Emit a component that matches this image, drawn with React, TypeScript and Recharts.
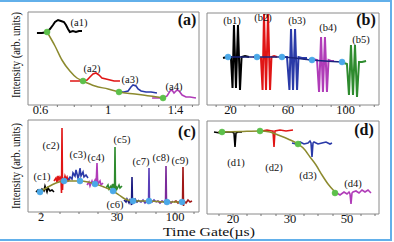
import React from 'react';
import { ComposedChart, Line, XAxis, YAxis, ReferenceArea } from 'recharts';

type P = [number, number];

// ---------- Panel (a) ----------
const aTickValues = [0.6, 1, 1.4];
const aTickLabels = ['0.6', '1', '1.4'];
const aMinorTicks = [0.7, 0.8, 0.9, 1.1, 1.2, 1.3, 1.5];
const a1: P[] = [[0.579,72],[0.609,72],[0.639,73],[0.656,76],[0.674,80],[0.686,83],[0.704,85],[0.721,84],[0.739,83],[0.751,80],[0.763,76],[0.774,73],[0.792,74],[0.810,73],[0.828,74],[0.846,74]];
const a2: P[] = [[0.775,24],[0.810,24],[0.846,24],[0.876,25],[0.893,28],[0.911,31],[0.929,32],[0.947,30],[0.964,27],[0.988,26],[1.012,25],[1.036,24],[1.071,24]];
const a3: P[] = [[1.059,13],[1.095,13],[1.119,14],[1.136,18],[1.148,20],[1.166,19],[1.178,16],[1.196,14],[1.225,13],[1.255,13],[1.290,12]];
const a4: P[] = [[1.261,7],[1.296,7],[1.326,7],[1.350,9],[1.367,14],[1.379,15],[1.391,12],[1.409,15],[1.421,14],[1.439,10],[1.462,8],[1.486,8],[1.521,7]];
const aFit: P[] = [[0.639,73],[0.686,59],[0.727,45],[0.774,34],[0.816,27],[0.852,24],[0.923,19],[1.0,16],[1.065,13],[1.160,11],[1.249,9],[1.326,7]];
const aDots: P[] = [[0.639,73],[0.852,24],[1.065,13],[1.326,7]];

// ---------- Panel (b) ----------
const bTickValues = [20, 60, 100];
const bTickLabels = ['20', '60', '100'];
const bMinorTicks = [10, 30, 40, 50, 70, 80, 90, 110, 120];
const b1: P[] = [[14.8,47],[17.6,48],[20.3,48],[21.4,17],[22.4,80],[23.8,17],[25.2,80],[26.6,15],[27.7,48],[30.1,49],[32.9,48]];
const b2: P[] = [[35.7,48],[38.4,48],[41.2,47],[42.3,15],[43.3,91],[44.7,15],[46.1,91],[47.5,15],[48.5,48],[50.3,49],[52.3,48]];
const b3: P[] = [[53.7,48],[56.5,48],[59.3,48],[61.0,15],[62.1,76],[63.5,15],[64.9,76],[66.3,15],[67.3,48],[69.7,47],[73.2,47]];
const b4: P[] = [[74.6,46],[77.4,46],[80.2,45],[81.6,13],[83.0,68],[84.3,13],[85.7,68],[87.1,13],[88.2,45],[89.9,44],[92.0,44]];
const b5: P[] = [[96.2,42],[99.0,42],[101.0,41],[102.4,10],[103.8,60],[105.2,10],[106.6,60],[108.0,8],[109.4,43],[111.5,43],[114.3,44]];
const bFit: P[] = [[18.3,48],[38.4,48],[55.8,48],[76.7,45],[97.6,43]];
const bDots: P[] = [[18.3,48],[38.4,48],[55.8,48],[76.7,45],[97.6,43]];

// ---------- Panel (c) ----------
const cTickValues = [13, 89, 147];
const cTickLabels = ['2', '30', '100'];
const cMinorTicks = [32, 51, 70, 108, 128, 166];
const c1: P[] = [[8,20],[10,22],[12,19],[14,23],[16,21],[17,26],[19,20],[20,24],[22,21],[24,22],[26,20]];
const c2: P[] = [[26,31],[28,34],[29,30],[30,36],[31,32],[32,35],[33,33],[33.5,19],[34,84],[34.5,22],[35,34],[36,31],[37,36],[38,33],[39,35],[40,31],[42,33]];
const c3: P[] = [[40,32],[42,35],[44,33],[45,39],[47,36],[48,42],[50,34],[51,37],[52,44],[53,36],[55,40],[56,35],[58,37],[60,34]];
const c4: P[] = [[59,27],[61,30],[62,26],[64,31],[65,28],[67,32],[68,29],[68.5,37],[69,49],[69.5,34],[70,28],[72,31],[73,27],[75,29]];
const c5: P[] = [[78,24],[80,27],[81,23],[83,26],[84,22],[85,28],[86,25],[86.5,19],[87,65],[87.5,20],[88,26],[89,23],[91,27],[92,24],[94,26]];
const c6: P[] = [[96,12],[98,10],[99,13],[101,9],[102,12],[103,10],[103.5,7],[104,35],[104.5,8],[105,11],[107,13],[109,10],[111,12]];
const c7: P[] = [[111,11],[113,10],[115,12],[117,9],[119,11],[120,10],[120.5,8],[121,44],[121.5,9],[122,11],[124,10],[126,12],[128,10]];
const c8: P[] = [[128,10],[130,11],[132,9],[134,11],[136,10],[137,11],[137.5,8],[138,46],[138.5,8],[139,10],[141,11],[143,9],[145,11]];
const c9: P[] = [[146,10],[148,11],[150,9],[152,11],[153,10],[154,11],[154.5,7],[155,45],[155.5,6],[156,11],[158,9],[160,12],[162,10],[164,11]];
const cFit: P[] = [[12,20],[20,25],[28,29],[36,31],[44,31],[52,31],[60,30],[67,28],[76,25],[85,21],[91,17],[97,13],[105,11],[121,11],[139,10],[154,10]];
const cDots: P[] = [[12,20],[36,31],[52,31],[67,28],[85,21],[105,11],[121,11],[139,10],[154,10]];

// ---------- Panel (d) ----------
const dTickValues = [26, 83, 140];
const dTickLabels = ['20', '30', '50'];
const dMinorTicks = [12, 40, 54, 69, 97, 111, 126, 154, 168];
const d1: P[] = [[7,82],[13,81],[19,82],[25,82],[27,81],[28,67],[29,81],[31,82],[35,82]];
const d2: P[] = [[50,83],[55,83],[60,84],[65,83],[66,83],[67,67],[68,83],[73,84],[79,83],[86,84]];
const d3: P[] = [[85,71],[89,70],[93,72],[97,70],[101,71],[103,73],[104,71],[105,57],[106,71],[107,72],[111,70],[115,71],[119,72],[123,70],[125,71]];
const d4: P[] = [[126,20],[130,21],[133,19],[137,22],[140,20],[142,22],[143,20],[144,10],[145,21],[146,22],[149,23],[152,21],[155,24],[158,22],[161,24],[164,21]];
const dFit: P[] = [[11,82],[33,82.5],[53,83],[63,82],[71,79],[81,75],[91,70],[98,64],[103,57],[109,49],[115,39],[121,30],[128,22]];
const dDots: P[] = [[15,82],[53,83],[91,70],[128,21]];

const FONT = '"Liberation Serif", "Times New Roman", serif';

const toPts = (arr: P[]) => arr.map(([x, y]) => ({ x, y }));

type Trace = { data: P[]; color: string; width?: number };

type PanelProps = {
  rect: { x: number; y: number; w: number; h: number };
  xDomain: [number, number];
  majors: number[];
  labels: string[];
  minors: number[];
  traces: Trace[];
  fit: P[];
  fitColor: string;
  dots: P[];
  dotColor: string;
};

const makeTick = (majors: number[], labels: string[]) => (props: any) => {
  const { x, y, payload } = props;
  const i = majors.findIndex((m) => Math.abs(m - payload.value) < 1e-6);
  const major = i >= 0;
  return (
    <g>
      <line x1={x} x2={x} y1={y} y2={y + (major ? 3 : 2)} stroke="#777" strokeWidth={1} />
      {major && (
        <text x={x} y={y + 9} textAnchor="middle" fontSize={12.5} fontFamily={FONT} fill="#111">
          {labels[i]}
        </text>
      )}
    </g>
  );
};

function Panel(p: PanelProps) {
  const pad = 6;
  const axisH = 18;
  const ticks = [...p.majors, ...p.minors].sort((u, v) => u - v);
  return (
    <div style={{ position: 'absolute', left: p.rect.x - pad, top: p.rect.y - pad }}>
      <ComposedChart
        width={p.rect.w + 2 * pad}
        height={p.rect.h + pad + axisH}
        margin={{ top: pad, right: pad, bottom: 0, left: pad }}
      >
        <XAxis
          dataKey="x"
          type="number"
          domain={p.xDomain}
          allowDataOverflow
          ticks={ticks}
          interval={0}
          tickSize={0}
          tickMargin={0}
          tickLine={false}
          axisLine={false}
          height={axisH}
          tick={makeTick(p.majors, p.labels)}
        />
        <YAxis type="number" domain={[0, p.rect.h]} allowDataOverflow hide />
        <ReferenceArea
          x1={p.xDomain[0]}
          x2={p.xDomain[1]}
          y1={0}
          y2={p.rect.h}
          fill="none"
          stroke="#8a8a8a"
          strokeWidth={1}
          ifOverflow="visible"
        />
        {p.traces.map((t, k) => (
          <Line
            key={k}
            data={toPts(t.data)}
            dataKey="y"
            type="linear"
            stroke={t.color}
            strokeWidth={t.width ?? 1.6}
            dot={false}
            isAnimationActive={false}
          />
        ))}
        <Line
          data={toPts(p.fit)}
          dataKey="y"
          type="monotone"
          stroke={p.fitColor}
          strokeWidth={1.5}
          dot={false}
          isAnimationActive={false}
        />
        <Line
          data={toPts(p.dots)}
          dataKey="y"
          type="linear"
          stroke="none"
          strokeWidth={0}
          dot={{ r: 3, fill: p.dotColor, stroke: p.dotColor, strokeWidth: 0.5 }}
          isAnimationActive={false}
        />
      </ComposedChart>
    </div>
  );
}

const OLIVE = '#8c8a2e';
const GREEN_DOT = '#5cc04a';
const BLUE_DOT = '#4aa8e8';

const traceLabels: { t: string; x: number; y: number }[] = [
  { t: '(a1)', x: 79, y: 25.5 },
  { t: '(a2)', x: 92, y: 71.5 },
  { t: '(a3)', x: 130, y: 82.5 },
  { t: '(a4)', x: 174, y: 89.5 },
  { t: '(b1)', x: 232, y: 23.5 },
  { t: '(b2)', x: 263, y: 20.5 },
  { t: '(b3)', x: 297, y: 23.5 },
  { t: '(b4)', x: 328, y: 30.5 },
  { t: '(b5)', x: 361, y: 42.5 },
  { t: '(c1)', x: 42, y: 179.5 },
  { t: '(c2)', x: 51, y: 148.5 },
  { t: '(c3)', x: 78, y: 157.5 },
  { t: '(c4)', x: 96, y: 160.5 },
  { t: '(c5)', x: 122, y: 142.5 },
  { t: '(c6)', x: 115, y: 207.5 },
  { t: '(c7)', x: 141, y: 164.5 },
  { t: '(c8)', x: 161, y: 160.5 },
  { t: '(c9)', x: 180, y: 163.5 },
  { t: '(d1)', x: 236, y: 165.5 },
  { t: '(d2)', x: 274, y: 170.5 },
  { t: '(d3)', x: 308, y: 178.5 },
  { t: '(d4)', x: 353, y: 186.5 },
];

const panelLabels: { t: string; x: number; y: number }[] = [
  { t: '(a)', x: 187, y: 25 },
  { t: '(b)', x: 366, y: 25 },
  { t: '(c)', x: 187, y: 137 },
  { t: '(d)', x: 364, y: 135 },
];

export default function App() {
  return (
    <div style={{ position: 'absolute', left: 0, top: 0, width: 394, height: 242, background: '#fff', overflow: 'hidden' }}>
      <Panel
        rect={{ x: 28, y: 12, w: 171, h: 93 }}
        xDomain={[0.526, 1.539]}
        majors={aTickValues}
        labels={aTickLabels}
        minors={aMinorTicks}
        traces={[
          { data: a1, color: '#000000', width: 2 },
          { data: a2, color: '#e01515' },
          { data: a3, color: '#2a3aa8' },
          { data: a4, color: '#b03cb8' },
        ]}
        fit={aFit}
        fitColor={OLIVE}
        dots={aDots}
        dotColor={GREEN_DOT}
      />
      <Panel
        rect={{ x: 207, y: 13, w: 172, h: 92 }}
        xDomain={[3.65, 123.3]}
        majors={bTickValues}
        labels={bTickLabels}
        minors={bMinorTicks}
        traces={[
          { data: b1, color: '#000000', width: 2 },
          { data: b2, color: '#e01515', width: 2 },
          { data: b3, color: '#2a3aa8', width: 2 },
          { data: b4, color: '#b03cb8', width: 2 },
          { data: b5, color: '#2e8b2e', width: 2 },
        ]}
        fit={bFit}
        fitColor="#1a237e"
        dots={bDots}
        dotColor={BLUE_DOT}
      />
      <Panel
        rect={{ x: 28, y: 120, w: 171, h: 92 }}
        xDomain={[0, 171]}
        majors={cTickValues}
        labels={cTickLabels}
        minors={cMinorTicks}
        traces={[
          { data: c1, color: '#000000' },
          { data: c2, color: '#e01515' },
          { data: c3, color: '#2a3aa8' },
          { data: c4, color: '#b03cb8' },
          { data: c5, color: '#2e8b2e' },
          { data: c6, color: '#1a1a80' },
          { data: c7, color: '#5a3fb8' },
          { data: c8, color: '#7b2a9a' },
          { data: c9, color: '#a01818' },
        ]}
        fit={cFit}
        fitColor={OLIVE}
        dots={cDots}
        dotColor={BLUE_DOT}
      />
      <Panel
        rect={{ x: 207, y: 121, w: 172, h: 93 }}
        xDomain={[0, 172]}
        majors={dTickValues}
        labels={dTickLabels}
        minors={dMinorTicks}
        traces={[
          { data: d1, color: '#000000' },
          { data: d2, color: '#e01515' },
          { data: d3, color: '#2a3aa8' },
          { data: d4, color: '#b03cb8' },
        ]}
        fit={dFit}
        fitColor={OLIVE}
        dots={dDots}
        dotColor={GREEN_DOT}
      />
      <svg width={394} height={242} style={{ position: 'absolute', left: 0, top: 0, pointerEvents: 'none' }}>
        <rect x={-2} y={1} width={393} height={239} fill="none" stroke="#62b0ea" strokeWidth={2} />
        <text
          transform="translate(19.5,55) rotate(-90)"
          textAnchor="middle"
          fontSize={11.5}
          fontFamily={FONT}
          fill="#111"
          textLength={86}
          lengthAdjust="spacingAndGlyphs"
        >
          Intensity (arb. units)
        </text>
        <text
          transform="translate(19.5,166) rotate(-90)"
          textAnchor="middle"
          fontSize={11.5}
          fontFamily={FONT}
          fill="#111"
          textLength={86}
          lengthAdjust="spacingAndGlyphs"
        >
          Intensity (arb. units)
        </text>
        <text
          x={209}
          y={236}
          textAnchor="middle"
          fontSize={12.5}
          fontFamily={FONT}
          fill="#111"
          textLength={92}
          lengthAdjust="spacingAndGlyphs"
        >
          Time Gate(µs)
        </text>
        {panelLabels.map((l) => (
          <text key={l.t} x={l.x} y={l.y} textAnchor="middle" fontSize={16} fontWeight="bold" fontFamily={FONT} fill="#111">
            {l.t}
          </text>
        ))}
        {traceLabels.map((l) => (
          <text key={l.t} x={l.x} y={l.y} textAnchor="middle" fontSize={10.5} fontFamily={FONT} fill="#111">
            {l.t}
          </text>
        ))}
      </svg>
    </div>
  );
}
